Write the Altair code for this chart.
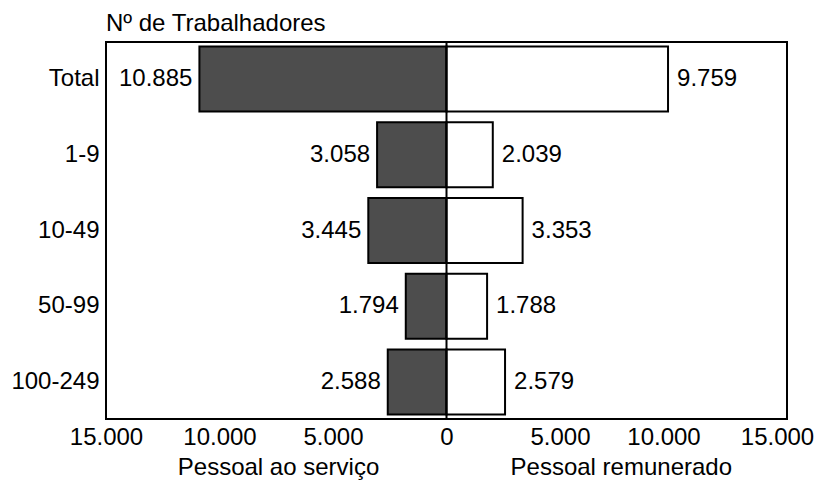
import altair as alt
import pandas as pd

categories = ["Total", "1-9", "10-49", "50-99", "100-249"]
pessoal_servico = [10885, 3058, 3445, 1794, 2588]
pessoal_remunerado = [9759, 2039, 3353, 1788, 2579]
tick_values = [-15000, -10000, -5000, 0, 5000, 10000, 15000]

rows = []
for c, s, r in zip(categories, pessoal_servico, pessoal_remunerado):
    rows.append({"cat": c, "serie": "Pessoal ao serviço", "v": -s,
                 "lab": f"{s:,}".replace(",", ".")})
    rows.append({"cat": c, "serie": "Pessoal remunerado", "v": r,
                 "lab": f"{r:,}".replace(",", ".")})
df = pd.DataFrame(rows)

FONT = "Liberation Sans"
FS = 24
W, H = 681, 377

x = alt.X("v:Q",
          scale=alt.Scale(domain=[-15000, 15000], nice=False, zero=False),
          axis=alt.Axis(values=tick_values, title=None, grid=False, ticks=False,
                        domain=False, labelFontSize=FS, labelFont=FONT,
                        labelColor="black", labelPadding=6, labelOverlap=False,
                        labelFlush=False,
                        labelOffset=alt.condition("datum.value >= 10000", alt.value(-10), alt.value(0)),
                        labelExpr="replace(format(abs(datum.value), ','), ',', '.')"))
y = alt.Y("cat:N", sort=categories,
          scale=alt.Scale(paddingInner=0.14, paddingOuter=0.058),
          axis=alt.Axis(title=None, ticks=False, domain=False, labelFontSize=FS,
                        labelFont=FONT, labelColor="black", labelPadding=7))

base = alt.Chart(df)

bars = base.mark_bar(stroke="black", strokeWidth=2).encode(
    x=x, y=y,
    fill=alt.Fill("serie:N",
                  scale=alt.Scale(domain=["Pessoal ao serviço", "Pessoal remunerado"],
                                  range=["#4d4d4d", "#ffffff"]),
                  legend=None),
)

left_text = base.transform_filter("datum.v < 0").mark_text(
    align="right", baseline="middle", dx=-7, font=FONT, fontSize=FS, color="black"
).encode(x="v:Q", y=alt.Y("cat:N", sort=categories), text="lab:N")

right_text = base.transform_filter("datum.v > 0").mark_text(
    align="left", baseline="middle", dx=9, font=FONT, fontSize=FS, color="black"
).encode(x="v:Q", y=alt.Y("cat:N", sort=categories), text="lab:N")

zero_df = pd.DataFrame({"z": [0]})
zero = alt.Chart(zero_df).mark_rule(color="black", strokeWidth=2).encode(x="z:Q")

titles_df = pd.DataFrame({"t": ["Pessoal ao serviço", "Pessoal remunerado"],
                          "xv": [-7400, 7700]})
axis_titles = alt.Chart(titles_df).mark_text(
    font=FONT, fontSize=FS, color="black", baseline="alphabetic", align="center"
).encode(x="xv:Q", y=alt.value(H + 56), text="t:N")

chart = alt.layer(bars, zero, left_text, right_text, axis_titles).properties(
    width=W, height=H,
    title=alt.TitleParams("Nº de Trabalhadores", anchor="start", frame="group",
                          font=FONT, fontSize=FS, fontWeight="normal",
                          color="black", offset=5),
    autosize=alt.AutoSizeParams(type="none"),
    padding={"left": 98, "top": 34, "right": 30, "bottom": 63},
).configure(background="white").configure_view(stroke="black", strokeWidth=2)

chart.save("out.html", embed_options={"renderer": "svg", "actions": False})
